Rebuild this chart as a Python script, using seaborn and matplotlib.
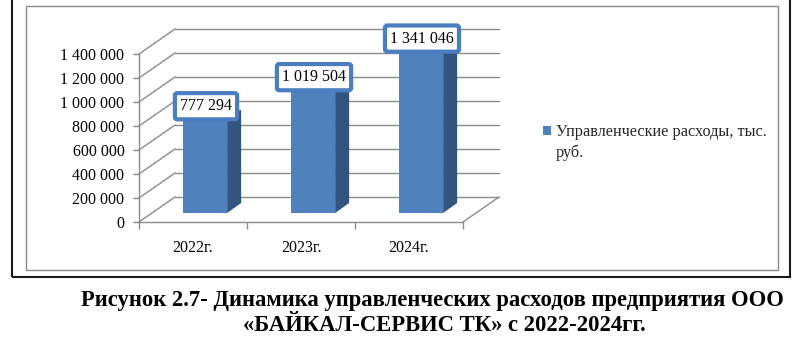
import matplotlib
matplotlib.use("Agg")
import matplotlib.pyplot as plt
import matplotlib.patches as mpatches
from matplotlib.lines import Line2D
from matplotlib.transforms import Affine2D, IdentityTransform
from matplotlib.ticker import FixedLocator, FuncFormatter
import seaborn as sns
import pandas as pd
import numpy as np

# ---------------- data ----------------
categories = ["2022г.", "2023г.", "2024г."]
values = [777294, 1019504, 1341046]
legend_line1 = "Управленческие расходы, тыс."
legend_line2 = "руб."
y_ticks = [0, 200000, 400000, 600000, 800000, 1000000, 1200000, 1400000]
caption_line1 = "Рисунок 2.7- Динамика управленческих расходов предприятия ООО"
caption_line2 = "«БАЙКАЛ-СЕРВИС ТК» с 2022-2024гг."

# ---------------- style ----------------
sns.set_theme(style="white")
plt.rcParams['font.family'] = ['Liberation Serif', 'DejaVu Serif']

FRONT = "#4F81BD"
SIDE = "#32557F"
TOP = "#5B8AC4"
GRID = "#8C8C8C"
LABEL_EDGE = "#4A7EC0"

W, H = 800, 344
fig = plt.figure(figsize=(W / 100, H / 100), dpi=100)
fig.patch.set_facecolor("white")

# outer and inner frames
fig.patches.append(mpatches.Rectangle((12 / W, 1 - 277 / H), (790 - 12) / W, 277 / H + 0.02,
                                      transform=fig.transFigure, fill=False,
                                      edgecolor="#1a1a1a", lw=1.5))
fig.patches.append(mpatches.Rectangle((26 / W, 1 - 270 / H), (778 - 26) / W, (270 - 6) / H,
                                      transform=fig.transFigure, fill=False,
                                      edgecolor="#8a8a8a", lw=1.0))

# front plane axes
ax = fig.add_axes([139 / W, 1 - 222 / H, 324 / W, 168 / H])
ax.set_facecolor("none")

df = pd.DataFrame({"Год": categories, "Значение": values})
sns.barplot(data=df, x="Год", y="Значение", ax=ax, color=FRONT, saturation=1,
            width=0.41, edgecolor="none", zorder=3)
ax.set_xlim(-0.5, len(categories) - 0.5)
ax.set_ylim(y_ticks[0], y_ticks[-1])
ax.set_xlabel("")
ax.set_ylabel("")

# axis styling
for s in ["top", "right"]:
    ax.spines[s].set_visible(False)
for s in ["left", "bottom"]:
    ax.spines[s].set_color(GRID)
    ax.spines[s].set_linewidth(1.0)
ax.yaxis.set_major_locator(FixedLocator(y_ticks))
ax.yaxis.set_major_formatter(FuncFormatter(lambda v, p: f"{int(round(v)):,}".replace(",", " ")))
ax.tick_params(axis="y", direction="out", length=4, width=1, color=GRID, pad=6.5,
               labelsize=11.5, labelcolor="black", left=True)
ax.tick_params(axis="x", which="major", length=0, pad=13, labelsize=11.5, labelcolor="black")
ax.set_xticks(np.arange(-0.5, len(categories), 1.0), minor=True)
ax.tick_params(axis="x", which="minor", direction="out", length=5, width=1, color=GRID, bottom=True)

T = ax.transData.transform
BAR_OFF = np.array([12.0, 9.0])     # bar front face depth
BACK_OFF = np.array([26.0, 19.0])   # bar back face depth
WALL_OFF = np.array([36.0, 25.0])   # back wall depth

x_left, x_right = ax.get_xlim()

def disp_line(p0, p1, **kw):
    ln = Line2D([p0[0], p1[0]], [p0[1], p1[1]], transform=IdentityTransform(), **kw)
    ax.add_line(ln)
    ln.set_clip_on(False)

# back wall gridlines and side-wall diagonals
for v in y_ticks:
    a = T((x_left, v))
    b = T((x_right, v))
    disp_line(a + WALL_OFF, b + WALL_OFF, color=GRID, lw=1.0, zorder=1)
    disp_line(a, a + WALL_OFF, color=GRID, lw=1.0, zorder=1)
# floor right edge
fr = T((x_right, 0))
disp_line(fr, fr + WALL_OFF, color=GRID, lw=1.0, zorder=1)

# 3D bars: shift front faces, add side and top faces
bar_shift = ax.transData + Affine2D().translate(*BAR_OFF)
for p, v in zip(ax.patches[:len(values)], values):
    x0 = p.get_x()
    x1 = x0 + p.get_width()
    h = p.get_height()
    p.set_transform(bar_shift)
    p.set_clip_on(False)
    side = [T((x1, 0)) + BAR_OFF, T((x1, h)) + BAR_OFF, T((x1, h)) + BACK_OFF, T((x1, 0)) + BACK_OFF]
    top = [T((x0, h)) + BAR_OFF, T((x1, h)) + BAR_OFF, T((x1, h)) + BACK_OFF, T((x0, h)) + BACK_OFF]
    for pts, c in [(side, SIDE), (top, TOP)]:
        poly = mpatches.Polygon(pts, closed=True, transform=IdentityTransform(),
                                facecolor=c, edgecolor="none", zorder=2.9)
        poly.set_clip_on(False)
        ax.add_patch(poly)
    # data label
    lab = f"{v:,}".replace(",", " ")
    ax.text((x0 + x1) / 2, h, lab, transform=ax.transData + Affine2D().translate(BAR_OFF[0] + 1, BAR_OFF[1] + 5.5),
            ha="center", va="bottom", fontsize=11.5, color="black", zorder=5,
            bbox=dict(boxstyle="round,pad=0.32,rounding_size=0.15", facecolor="white",
                      edgecolor=LABEL_EDGE, linewidth=3))

# legend
handles = [mpatches.Patch(facecolor=FRONT, edgecolor="none"),
           mpatches.Patch(facecolor="none", edgecolor="none")]
ax.legend(handles=handles, labels=[legend_line1, legend_line2], loc="upper left",
          bbox_to_anchor=(543 / W, 1 - 124 / H), bbox_transform=fig.transFigure,
          frameon=False, fontsize=11.7, handlelength=0.5, handleheight=0.5,
          handletextpad=0.3, labelspacing=0.3, borderpad=0, borderaxespad=0)

# caption
fig.text(432 / W, 1 - 306 / H, caption_line1, ha="center", va="baseline",
         fontsize=16.3, fontweight="bold", color="black")
fig.text(444 / W, 1 - 331 / H, caption_line2, ha="center", va="baseline",
         fontsize=16.3, fontweight="bold", color="black")

fig.savefig("out.png", dpi=100, facecolor="white")
